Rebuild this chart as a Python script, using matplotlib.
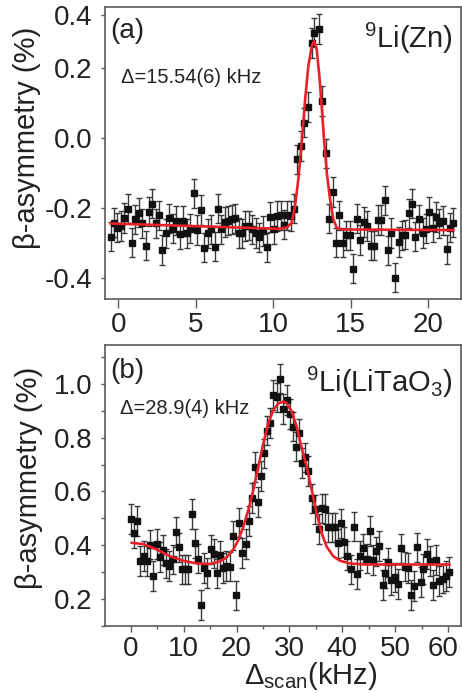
import matplotlib
matplotlib.use("Agg")
import matplotlib.pyplot as plt
import matplotlib.transforms as mtransforms
from matplotlib.ticker import FixedLocator, MultipleLocator

plt.rcParams["font.family"] = ["Liberation Sans", "DejaVu Sans"]
plt.rcParams["mathtext.fontset"] = "custom"
plt.rcParams["mathtext.rm"] = "Liberation Sans"
plt.rcParams["mathtext.it"] = "Liberation Sans:italic"
plt.rcParams["mathtext.bf"] = "Liberation Sans:bold"

# ---- panel (a): 9Li in Zn ----
scan_a = [-0.49, -0.28, -0.06, 0.15, 0.39, 0.60, 0.86, 1.08, 1.31, 1.51,
          1.77, 1.98, 2.20, 2.41, 2.63, 2.84, 3.08, 3.29, 3.51, 3.72,
          3.96, 4.20, 4.41, 4.63, 4.88, 5.08, 5.34, 5.55, 5.77, 5.98,
          6.22, 6.41, 6.65, 6.86, 7.10, 7.31, 7.55, 7.77, 7.98, 8.20,
          8.41, 8.65, 8.86, 9.08, 9.31, 9.57, 9.79, 10.05, 10.26, 10.48,
          10.69, 10.90, 11.12, 11.34, 11.55, 11.77, 11.98, 12.26, 12.48, 12.63,
          12.93, 13.12, 13.38, 13.62, 13.83, 14.05, 14.26, 14.48, 14.69, 14.95,
          15.16, 15.38, 15.59, 15.85, 16.07, 16.28, 16.50, 16.75, 16.97, 17.19,
          17.40, 17.61, 17.87, 18.09, 18.30, 18.52, 18.73, 18.95, 19.16, 19.38,
          19.64, 19.85, 20.06, 20.28, 20.50, 20.71, 20.93, 21.19, 21.40, 21.61]
asym_a = [-0.281, -0.241, -0.255, -0.250, -0.227, -0.201, -0.298, -0.231, -0.212, -0.243,
          -0.306, -0.209, -0.186, -0.243, -0.220, -0.319, -0.271, -0.228, -0.258, -0.235,
          -0.274, -0.236, -0.271, -0.258, -0.157, -0.262, -0.205, -0.312, -0.271, -0.260,
          -0.309, -0.201, -0.260, -0.239, -0.235, -0.231, -0.228, -0.270, -0.271, -0.250,
          -0.249, -0.260, -0.270, -0.283, -0.265, -0.311, -0.224, -0.260, -0.222, -0.220,
          -0.246, -0.220, -0.222, -0.201, -0.060, -0.022, 0.045, 0.090, 0.273, 0.302,
          0.313, 0.107, -0.043, -0.229, -0.153, -0.298, -0.220, -0.298, -0.277, -0.277,
          -0.372, -0.229, -0.290, -0.239, -0.250, -0.306, -0.306, -0.233, -0.233, -0.177,
          -0.320, -0.270, -0.398, -0.296, -0.277, -0.275, -0.214, -0.186, -0.281, -0.231,
          -0.270, -0.258, -0.210, -0.255, -0.224, -0.243, -0.235, -0.317, -0.255, -0.241]
err_a = 0.042
fit_x_a = [-0.49, 10.26, 10.86, 11.19, 11.40, 11.61, 11.83, 12.05, 12.26, 12.48,
           12.63, 12.80, 12.97, 13.12, 13.27, 13.45, 13.66, 13.87, 14.09, 14.41, 21.61]
fit_y_a = [-0.243, -0.258, -0.255, -0.241, -0.193, -0.117, -0.012, 0.111, 0.207, 0.264,
           0.278, 0.254, 0.178, 0.092, -0.003, -0.098, -0.174, -0.231, -0.255, -0.260, -0.262]
yticks_a = [-0.4, -0.2, 0.0, 0.2, 0.353]
yticklabels_a = ["-0.4", "-0.2", "0.0", "0.2", "0.4"]

# ---- panel (b): 9Li in LiTaO3 ----
scan_b = [0.06, 0.69, 1.25, 1.82, 2.46, 3.08, 3.71, 4.27, 4.91, 5.48,
          6.11, 6.67, 7.30, 7.94, 8.50, 9.13, 9.70, 10.32, 10.89, 11.53,
          12.15, 12.72, 13.29, 13.92, 14.48, 15.12, 15.69, 16.31, 16.88, 17.50,
          18.07, 18.71, 19.28, 19.91, 20.47, 21.10, 21.74, 22.31, 22.87, 23.50,
          24.06, 24.69, 25.20, 25.77, 26.33, 26.96, 27.60, 28.28, 28.85, 29.49,
          30.06, 30.62, 31.19, 31.82, 32.38, 33.01, 33.57, 34.22, 34.84, 35.60,
          36.11, 36.73, 37.35, 38.00, 38.62, 39.24, 39.75, 40.38, 40.94, 41.59,
          42.21, 42.72, 43.35, 43.97, 44.61, 45.24, 45.86, 46.37, 46.88, 47.64,
          48.13, 48.70, 49.26, 49.91, 50.53, 51.15, 51.80, 52.42, 53.04, 53.55,
          54.06, 54.82, 55.31, 55.95, 56.58, 57.09, 57.71, 58.34, 58.98, 59.60, 60.23]
asym_b = [0.498, 0.446, 0.489, 0.342, 0.359, 0.342, 0.402, 0.285, 0.404, 0.357,
          0.382, 0.332, 0.322, 0.347, 0.449, 0.392, 0.310, 0.310, 0.310, 0.516,
          0.407, 0.350, 0.178, 0.315, 0.297, 0.384, 0.369, 0.295, 0.362, 0.315,
          0.322, 0.320, 0.436, 0.213, 0.484, 0.372, 0.404, 0.491, 0.575, 0.690,
          0.561, 0.657, 0.742, 0.826, 0.854, 0.958, 0.950, 1.020, 0.906, 0.940,
          0.888, 0.841, 0.767, 0.816, 0.705, 0.727, 0.677, 0.574, 0.533, 0.461,
          0.537, 0.534, 0.466, 0.466, 0.466, 0.407, 0.481, 0.412, 0.361, 0.310,
          0.469, 0.292, 0.361, 0.388, 0.350, 0.453, 0.344, 0.377, 0.397, 0.251,
          0.295, 0.336, 0.270, 0.280, 0.255, 0.388, 0.320, 0.316, 0.214, 0.248,
          0.392, 0.264, 0.312, 0.367, 0.342, 0.251, 0.344, 0.267, 0.276, 0.286, 0.300]
err_b = 0.055
fit_x_b = [0.19, 2.39, 4.91, 7.43, 9.95, 12.46, 14.99, 16.88, 18.15, 19.40,
           20.34, 21.29, 22.23, 23.18, 24.12, 25.07, 26.01, 26.96, 27.90, 28.85,
           29.49, 30.43, 31.38, 32.33, 33.27, 34.22, 35.16, 36.11, 37.05, 38.30,
           39.56, 41.46, 44.61, 60.23]
fit_y_b = [0.409, 0.404, 0.384, 0.359, 0.342, 0.332, 0.330, 0.340, 0.355, 0.384,
           0.419, 0.469, 0.531, 0.605, 0.692, 0.779, 0.854, 0.903, 0.928, 0.934,
           0.928, 0.897, 0.841, 0.760, 0.692, 0.605, 0.518, 0.444, 0.394, 0.359,
           0.342, 0.332, 0.328, 0.328]

RED = "#e8202a"
SPINE = "#5a5a5a"


def draw_panel(ax, x, y, err, fx, fy):
    ax.errorbar(x, y, yerr=err, fmt="s", ms=5, color="#111111", mec="#111111",
                ecolor="#3a3a3a", elinewidth=1, capsize=2, capthick=1, zorder=2)
    ax.plot(fx, fy, color=RED, lw=1.9, zorder=3)
    for s in ax.spines.values():
        s.set_color(SPINE)
        s.set_linewidth(1.2)
    ax.tick_params(which="both", direction="out", color=SPINE, width=1,
                   labelsize=20, labelcolor="#222222")
    ax.set_ylabel("β-asymmetry (%)", fontsize=21, color="#222222")


fig = plt.figure(figsize=(4.62, 6.93), dpi=100)
ax_a = fig.add_axes([0.2273, 0.5686, 0.7706, 0.4214])
ax_b = fig.add_axes([0.2273, 0.0967, 0.7706, 0.4055])

draw_panel(ax_a, scan_a, asym_a, err_a, fit_x_a, fit_y_a)
ax_a.set_xlim(-0.86, 22.11)
ax_a.set_ylim(-0.4586, 0.3757)
ax_a.xaxis.set_major_locator(MultipleLocator(5))
ax_a.yaxis.set_major_locator(FixedLocator(yticks_a))
ax_a.set_yticklabels(yticklabels_a)
ax_a.tick_params(axis="x", length=6.5, pad=3)
ax_a.tick_params(axis="y", length=3.2, pad=6)
ax_a.yaxis.set_label_coords(-0.18, 0.55)
ax_a.text(0.016, 0.962, "(a)", transform=ax_a.transAxes, fontsize=20,
          va="top", ha="left", color="#222222")
ax_a.text(0.044, 0.760, "Δ=15.54(6) kHz", transform=ax_a.transAxes, fontsize=14.5,
          va="center", ha="left", color="#222222")
ax_a.text(0.978, 0.860, r"$^{\mathregular{9}}$Li(Zn)", transform=ax_a.transAxes,
          fontsize=21, va="baseline", ha="right", color="#222222")

draw_panel(ax_b, scan_b, asym_b, err_b, fit_x_b, fit_y_b)
ax_b.set_xlim(-4.86, 62.44)
ax_b.set_ylim(0.0994, 1.145)
ax_b.xaxis.set_major_locator(FixedLocator([0, 10, 20, 30, 40, 50, 60]))
ax_b.xaxis.set_minor_locator(MultipleLocator(5))
ax_b.yaxis.set_major_locator(MultipleLocator(0.2))
ax_b.yaxis.set_minor_locator(MultipleLocator(0.1))
ax_b.yaxis.set_major_formatter(lambda v, p: f"{v:.1f}")
ax_b.tick_params(axis="x", which="major", length=4.5, pad=3)
ax_b.tick_params(axis="x", which="minor", length=2.5)
ax_b.tick_params(axis="y", which="major", length=3.2, pad=6)
ax_b.tick_params(axis="y", which="minor", length=3.0)
ax_b.yaxis.set_label_coords(-0.175, 0.527)
ax_b.set_xlabel(r"Δ$_{\mathregular{scan}}$(kHz)", fontsize=21, color="#222222")
ax_b.xaxis.set_label_coords(0.579, -0.122)
ax_b.text(0.016, 0.954, "(b)", transform=ax_b.transAxes, fontsize=20,
          va="top", ha="left", color="#222222")
ax_b.text(0.042, 0.775, "Δ=28.9(4) kHz", transform=ax_b.transAxes, fontsize=14.5,
          va="center", ha="left", color="#222222")
ax_b.text(0.977, 0.834, r"$^{\mathregular{9}}$Li(LiTaO$_{\mathregular{3}}$)",
          transform=ax_b.transAxes, fontsize=21, va="baseline", ha="right",
          color="#222222")

# the last x label sits flush with the right edge in the original; nudge it in
fig.canvas.draw()
last_tick = ax_b.xaxis.get_major_ticks()[-1]
last_tick.label1.set_transform(
    last_tick.label1.get_transform()
    + mtransforms.ScaledTranslation(-4 / 72, 0, fig.dpi_scale_trans))

fig.savefig("out.png", dpi=100)
